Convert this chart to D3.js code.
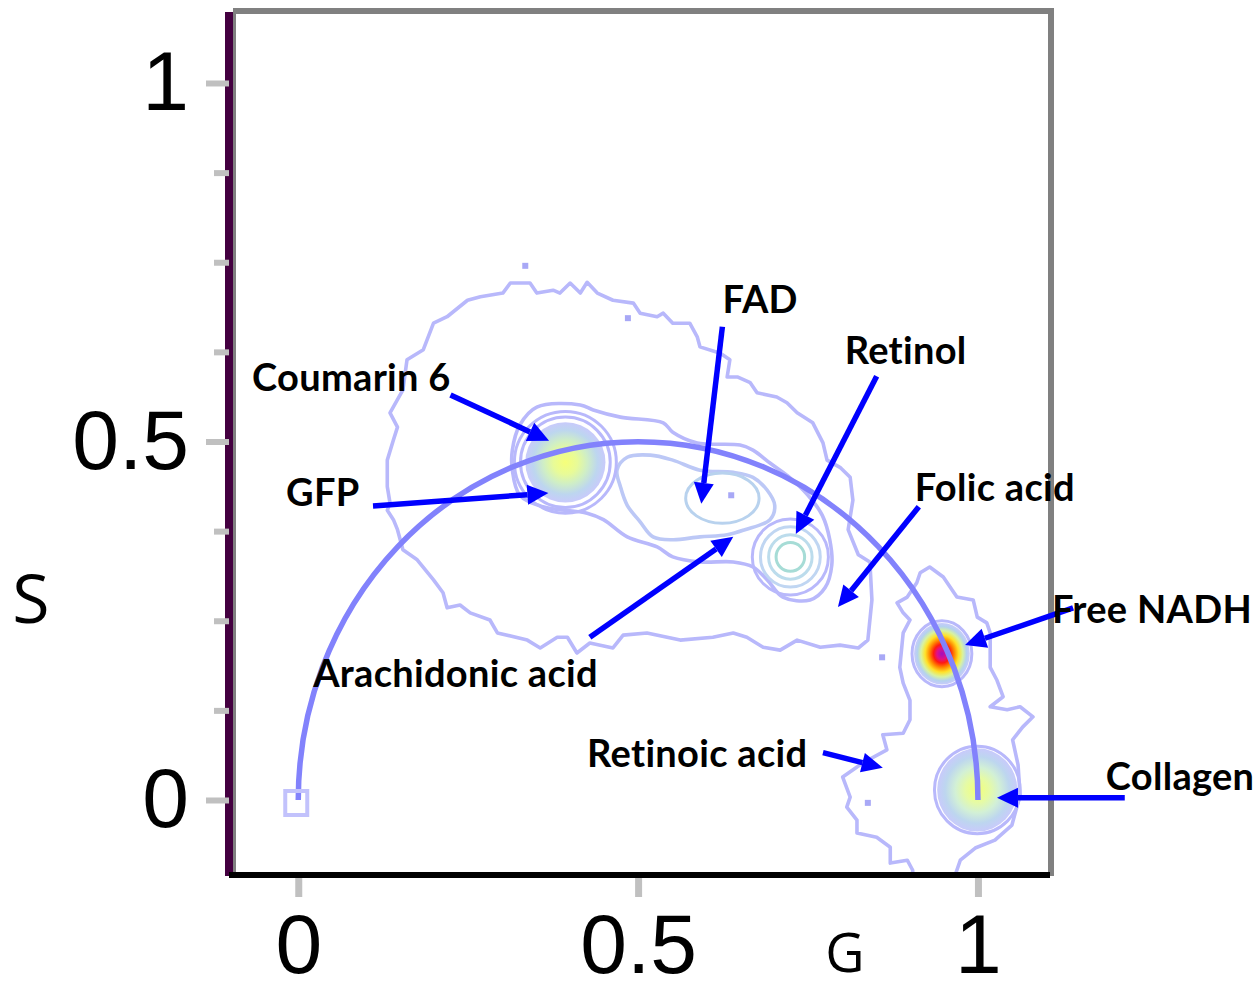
<!DOCTYPE html>
<html>
<head>
<meta charset="utf-8">
<script src="https://cdn.jsdelivr.net/npm/d3@7"></script>
<style>
  html, body { margin: 0; padding: 0; background: #fff; }
  svg { display: block; }
  .tick text { font-family: "Liberation Sans", Arial, sans-serif; font-size: 84px; fill: #000; }
  .axis-title { font-family: "Open Sans", sans-serif; fill: #000; }
  .note { font-family: Lato, "Open Sans", sans-serif; font-weight: 700; font-size: 38px; letter-spacing: 0.3px; fill: #000; }
</style>
</head>
<body>
<div id="chart"></div>
<script>
// Phasor plot (G, S) with the universal semicircle and labelled reference spots.

const G_DOMAIN = [-0.096, 1.106];
const S_DOMAIN = [-0.106, 1.099];
const G_TICKS = [0, 0.5, 1];
const S_TICKS = [0, 0.5, 1];
const S_MINOR = [0.125, 0.25, 0.375, 0.625, 0.75, 0.875];

// annotation labels: text, label anchor (G,S), arrow tail and tip (G,S)
const compounds = ["FAD", "Retinol", "Coumarin 6", "GFP", "Folic acid",
                   "Free NADH", "Arachidonic acid", "Retinoic acid", "Collagen"];
const labelAt = [[0.624, 0.679], [0.804, 0.608], [-0.068, 0.570], [-0.018, 0.410], [0.907, 0.417],
                 [1.109, 0.247], [0.022, 0.158], [0.425, 0.046], [1.188, 0.014]];
const arrowTail = [[0.624, 0.660], [0.851, 0.591], [0.224, 0.565], [0.110, 0.410], [0.913, 0.409],
                   [1.140, 0.268], [0.429, 0.227], [0.772, 0.066], [1.216, 0.003]];
const arrowTip = [[0.593, 0.413], [0.732, 0.371], [0.369, 0.501], [0.368, 0.428], [0.794, 0.269],
                  [0.981, 0.216], [0.640, 0.367], [0.860, 0.045], [1.028, 0.003]];

// lowest density contour, main cloud (G,S)
const outerContour = [
  [0.154, 0.572], [0.160, 0.614], [0.184, 0.628], [0.199, 0.665], [0.219, 0.674], [0.249, 0.697],
  [0.268, 0.702], [0.301, 0.707], [0.312, 0.721], [0.341, 0.721], [0.351, 0.707], [0.375, 0.711],
  [0.385, 0.707], [0.400, 0.721], [0.415, 0.707], [0.425, 0.722], [0.440, 0.707], [0.463, 0.697],
  [0.493, 0.693], [0.503, 0.679], [0.528, 0.674], [0.537, 0.679], [0.551, 0.665], [0.576, 0.665],
  [0.587, 0.646], [0.591, 0.632], [0.621, 0.623], [0.635, 0.614], [0.631, 0.590], [0.646, 0.590],
  [0.665, 0.582], [0.675, 0.568], [0.704, 0.562], [0.719, 0.554], [0.734, 0.540], [0.757, 0.526],
  [0.772, 0.498], [0.778, 0.474], [0.797, 0.464], [0.812, 0.450], [0.816, 0.418], [0.809, 0.377],
  [0.824, 0.342], [0.841, 0.332], [0.844, 0.279], [0.838, 0.223], [0.824, 0.212], [0.797, 0.216],
  [0.768, 0.213], [0.734, 0.223], [0.709, 0.209], [0.684, 0.213], [0.660, 0.227], [0.640, 0.233],
  [0.610, 0.227], [0.562, 0.223], [0.513, 0.233], [0.478, 0.230], [0.463, 0.212], [0.429, 0.219],
  [0.410, 0.205], [0.396, 0.227], [0.381, 0.227], [0.356, 0.212], [0.337, 0.223], [0.293, 0.233],
  [0.282, 0.251], [0.253, 0.261], [0.238, 0.272], [0.219, 0.268], [0.213, 0.289], [0.199, 0.307],
  [0.175, 0.335], [0.154, 0.349], [0.146, 0.377], [0.140, 0.391], [0.131, 0.404], [0.135, 0.414],
  [0.131, 0.437], [0.131, 0.474], [0.140, 0.502], [0.146, 0.520], [0.135, 0.540]
];

// lowest density contour, NADH / collagen cloud (runs off the bottom edge)
const rightContour = [
  [0.904, -0.106], [0.904, -0.098], [0.896, -0.084], [0.871, -0.088], [0.871, -0.066], [0.851, -0.052],
  [0.822, -0.046], [0.822, -0.028], [0.807, -0.010], [0.812, 0.004], [0.801, 0.032], [0.831, 0.052],
  [0.866, 0.070], [0.860, 0.091], [0.890, 0.093], [0.900, 0.112], [0.900, 0.139], [0.890, 0.163],
  [0.885, 0.185], [0.890, 0.233], [0.900, 0.251], [0.890, 0.261], [0.881, 0.275], [0.896, 0.283],
  [0.910, 0.303], [0.915, 0.317], [0.929, 0.325], [0.949, 0.311], [0.969, 0.283], [0.993, 0.279],
  [0.999, 0.255], [1.013, 0.247], [1.018, 0.233], [1.018, 0.185], [1.028, 0.167], [1.037, 0.144],
  [1.018, 0.130], [1.043, 0.126], [1.062, 0.130], [1.081, 0.116], [1.066, 0.102], [1.051, 0.084],
  [1.059, 0.049], [1.062, 0.007], [1.050, -0.035], [1.025, -0.056], [0.996, -0.067], [0.974, -0.084],
  [0.966, -0.106]
];

// second level: band around Coumarin 6, FAD and Retinol
const bandContour = [
  [0.315, 0.488], [0.326, 0.523], [0.351, 0.548], [0.415, 0.551], [0.434, 0.544], [0.474, 0.534],
  [0.537, 0.526], [0.551, 0.513], [0.587, 0.498], [0.650, 0.495], [0.669, 0.488], [0.694, 0.470],
  [0.724, 0.449], [0.750, 0.425], [0.771, 0.397], [0.782, 0.363], [0.785, 0.328], [0.775, 0.296],
  [0.753, 0.279], [0.713, 0.283], [0.690, 0.307], [0.669, 0.325], [0.640, 0.332], [0.591, 0.332],
  [0.551, 0.339], [0.528, 0.353], [0.484, 0.367], [0.449, 0.391], [0.425, 0.400], [0.360, 0.409],
  [0.326, 0.425], [0.315, 0.460]
];

// third level: loop between Coumarin 6 and Retinol
const innerContour = [
  [0.469, 0.460], [0.484, 0.478], [0.518, 0.481], [0.551, 0.474], [0.591, 0.460], [0.640, 0.457],
  [0.669, 0.450], [0.690, 0.432], [0.701, 0.411], [0.694, 0.391], [0.657, 0.377], [0.631, 0.370],
  [0.591, 0.367], [0.551, 0.363], [0.522, 0.367], [0.503, 0.388], [0.484, 0.411], [0.474, 0.437]
];

// spots: centre (G,S), filled core radius [rG, rS] (0 = none), contour rings [rG, rS]
const spots = ["Coumarin 6", "FAD", "Retinol", "Free NADH", "Collagen"];
const spotCenter = [[0.393, 0.471], [0.624, 0.421], [0.724, 0.339], [0.947, 0.204], [0.999, 0.014]];
const spotCore = [[0.059, 0.056], [0, 0], [0, 0], [0.041, 0.043], [0.059, 0.058]];
const spotRings = [
  [[0.066, 0.063], [0.075, 0.071]],
  [[0.054, 0.035]],
  [[0.021, 0.020], [0.032, 0.031], [0.044, 0.042], [0.056, 0.053]],
  [[0.044, 0.046]],
  [[0.063, 0.061]]
];
const strayPixels = [[0.334, 0.745], [0.485, 0.672], [0.637, 0.425], [0.859, 0.199], [0.838, -0.004]];

// ---- styles ----
const LAVENDER = "#b8b8fb";
const HEAT = [
  [[0, "#f6ff7a"], [0.3, "#e8fb98"], [0.55, "#cfeec6"], [0.8, "#bdd6ef"], [1, "#c8cafb"]],
  null,
  null,
  [[0, "#a010c0"], [0.18, "#e0108a"], [0.3, "#ff1a10"], [0.45, "#ff8a00"], [0.6, "#ffe22a"],
   [0.75, "#d8f2a0"], [0.88, "#b4d2ee"], [1, "#c8cafb"]],
  [[0, "#f2ff7a"], [0.3, "#e6fba4"], [0.55, "#d2f0d6"], [0.8, "#bdd6ef"], [1, "#c8cafb"]]
];
const RING = [
  [LAVENDER, LAVENDER],
  ["#b8d2ee"],
  ["#a6dcd6", "#bcdcec", "#c0d6f2", LAVENDER],
  [LAVENDER],
  [LAVENDER]
];

const W = 1259, H = 992;
const svg = d3.select("#chart").append("svg")
  .attr("width", W).attr("height", H).attr("viewBox", `0 0 ${W} ${H}`);

const x = d3.scaleLinear().domain(G_DOMAIN).range([233, 1050]);
const y = d3.scaleLinear().domain(S_DOMAIN).range([876, 12]);

const defs = svg.append("defs");
defs.append("clipPath").attr("id", "plot").append("rect")
  .attr("x", x(G_DOMAIN[0])).attr("y", y(S_DOMAIN[1]))
  .attr("width", x(G_DOMAIN[1]) - x(G_DOMAIN[0]))
  .attr("height", y(S_DOMAIN[0]) - y(S_DOMAIN[1]));

HEAT.forEach((stops, i) => {
  if (!stops) return;
  const gr = defs.append("radialGradient").attr("id", "heat" + i);
  gr.selectAll("stop").data(stops).join("stop")
    .attr("offset", d => d[0]).attr("stop-color", d => d[1]);
});

const plot = svg.append("g").attr("clip-path", "url(#plot)");

const jagged = d3.line().x(d => x(d[0])).y(d => y(d[1])).curve(d3.curveLinearClosed);
const jaggedOpen = d3.line().x(d => x(d[0])).y(d => y(d[1]));
const smooth = d3.line().x(d => x(d[0])).y(d => y(d[1])).curve(d3.curveCatmullRomClosed.alpha(0.5));

const contourStyle = sel => sel.attr("fill", "none").attr("stroke", LAVENDER)
  .attr("stroke-width", 3.6).attr("stroke-linejoin", "round");

plot.append("path").attr("d", jagged(outerContour)).call(contourStyle);
plot.append("path").attr("d", jaggedOpen(rightContour)).call(contourStyle);
plot.append("path").attr("d", smooth(bandContour)).call(contourStyle);
plot.append("path").attr("d", smooth(innerContour)).call(contourStyle).attr("stroke", "#bcc8f6");

plot.selectAll("rect.stray").data(strayPixels).join("rect").attr("class", "stray")
  .attr("x", d => x(d[0]) - 3).attr("y", d => y(d[1]) - 3)
  .attr("width", 6).attr("height", 6).attr("fill", "#a8a8f6");

// spot cores and rings
spots.forEach((name, i) => {
  const [cg, cs] = spotCenter[i];
  const cx = x(cg), cy = y(cs);
  const core = spotCore[i];
  if (HEAT[i] && core[0] > 0) {
    plot.append("ellipse").attr("cx", cx).attr("cy", cy)
      .attr("rx", x(core[0]) - x(0)).attr("ry", y(0) - y(core[1]))
      .attr("fill", `url(#heat${i})`);
  }
  spotRings[i].forEach((r, k) => {
    plot.append("ellipse").attr("cx", cx).attr("cy", cy)
      .attr("rx", x(r[0]) - x(0)).attr("ry", y(0) - y(r[1]))
      .attr("fill", "none").attr("stroke", RING[i][k]).attr("stroke-width", 3);
  });
});

// universal semicircle
plot.append("path")
  .attr("d", `M${x(0)},${y(0)} A${x(0.5) - x(0)},${y(0) - y(0.5)} 0 0 1 ${x(1)},${y(0)}`)
  .attr("fill", "none").attr("stroke", "#8282fc").attr("stroke-width", 5.5);
plot.append("rect")
  .attr("x", x(0) - 13).attr("y", y(0) - 9).attr("width", 22).attr("height", 24)
  .attr("fill", "none").attr("stroke", "#c2c2fc").attr("stroke-width", 4);

// frame
svg.append("rect").attr("x", 225).attr("y", 12).attr("width", 8).attr("height", 864).attr("fill", "#440040");
svg.append("rect").attr("x", 233).attr("y", 12).attr("width", 3).attr("height", 864).attr("fill", "#808080");
svg.append("rect").attr("x", 233).attr("y", 8).attr("width", 821).attr("height", 6).attr("fill", "#808080");
svg.append("rect").attr("x", 1048).attr("y", 8).attr("width", 6).attr("height", 868).attr("fill", "#808080");
svg.append("rect").attr("x", 229).attr("y", 872).attr("width", 821).attr("height", 6).attr("fill", "#000");

// axes
const tickStyle = sel => {
  sel.select(".domain").remove();
  sel.selectAll(".tick line").attr("stroke", "#c0c0c0").attr("stroke-width", 6);
};
svg.append("g").attr("transform", "translate(229,0)")
  .call(d3.axisLeft(y).tickValues(S_MINOR).tickSize(15).tickFormat(""))
  .call(tickStyle);
svg.append("g").attr("transform", "translate(229,0)")
  .call(d3.axisLeft(y).tickValues(S_TICKS).tickSize(23).tickPadding(17).tickFormat(d3.format("")))
  .call(tickStyle);
svg.append("g").attr("transform", "translate(0,878)")
  .call(d3.axisBottom(x).tickValues(G_TICKS).tickSize(19).tickPadding(16).tickFormat(d3.format("")))
  .call(tickStyle)
  .selectAll(".tick line").attr("stroke-width", 7);

svg.append("text").attr("class", "axis-title").attr("x", 31).attr("y", 623)
  .attr("text-anchor", "middle").style("font-size", "68px").text("S");
svg.append("text").attr("class", "axis-title").attr("x", 845).attr("y", 972)
  .attr("text-anchor", "middle").style("font-size", "54px").text("G");

// arrows
const HEAD_L = 21, HEAD_W = 10;
const arrows = svg.append("g");
arrowTail.forEach((t, i) => {
  const x0 = x(t[0]), y0 = y(t[1]);
  const x1 = x(arrowTip[i][0]), y1 = y(arrowTip[i][1]);
  const a = Math.atan2(y1 - y0, x1 - x0);
  const bx = x1 - HEAD_L * Math.cos(a), by = y1 - HEAD_L * Math.sin(a);
  arrows.append("line").attr("x1", x0).attr("y1", y0).attr("x2", bx).attr("y2", by)
    .attr("stroke", "#0000ff").attr("stroke-width", 5.5);
  const px = HEAD_W * Math.sin(a), py = -HEAD_W * Math.cos(a);
  arrows.append("polygon")
    .attr("points", `${x1},${y1} ${bx + px},${by + py} ${bx - px},${by - py}`)
    .attr("fill", "#0000ff");
});

// labels
svg.append("g").selectAll("text").data(compounds).join("text")
  .attr("class", "note")
  .attr("x", (d, i) => x(labelAt[i][0]))
  .attr("y", (d, i) => y(labelAt[i][1]))
  .text(d => d);
</script>
</body>
</html>
